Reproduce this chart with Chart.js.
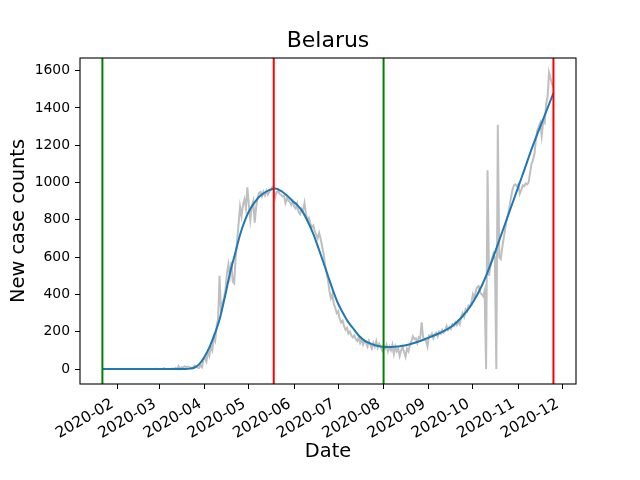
<!DOCTYPE html>
<html>
<head>
<meta charset="utf-8">
<script src="https://cdn.jsdelivr.net/npm/chart.js@4.4.1/dist/chart.umd.min.js"></script>
<style>
  html, body { margin: 0; padding: 0; background: #fff; }
</style>
</head>
<body>
<canvas id="chart" width="640" height="480"></canvas>
<script>
// day 0 = 2020-01-22, one value per day
const caseCounts = [
  0,0,0,0,0,0,0,0,0,0, 0,0,0,0,0,0,0,0,0,0, 0,0,0,0,0,0,0,0,0,0, 0,0,0,0,0,0,0,
  1,0,0,0,0,5,0,0,0,0,0,3,0,
  6,0,15,0,9,8,15,10,13,11,
  10,5,8,18,12,8,5,20,10,50,
  60,40,90,70,120,100,170,150,230,270,
  500,300,350,380,420,510,560,500,575,470,
  460,600,690,780,870,820,880,910,860,975,
  880,800,870,900,785,870,920,945,950,925,
  950,930,955,935,950,960,975,960,920,950,
  955,940,935,925,930,890,915,905,895,880,
  900,870,860,885,840,830,860,850,890,830,
  800,810,780,760,770,740,720,700,730,700,
  660,620,560,520,480,420,380,400,350,330,
  300,310,270,250,260,230,210,220,190,200,
  180,170,180,160,150,170,140,160,130,150,
  140,120,150,130,110,140,120,150,115,135,
  120,100,125,110,130,95,120,100,130,80,
  120,95,110,70,100,120,90,65,110,95,
  130,150,175,160,165,140,170,165,250,170,
  160,150,120,180,175,190,165,185,195,175,
  200,190,210,195,205,230,210,225,215,240,
  230,250,235,255,240,280,300,280,320,310,
  340,335,360,400,380,420,440,445,410,400,
  390,420,0,1066,500,560,590,620,600,0,
  1310,600,590,650,700,750,800,830,870,920,
  960,985,990,980,990,940,960,985,980,995,
  990,1000,1050,1100,1120,1150,1230,1280,1300,1320,
  1250,1330,1320,1420,1460,1590,1560,1530,1510
];

// smoothed curve
const fitDays = [0, 14, 28, 42, 56, 60, 63, 66, 70, 73, 77, 80, 84, 87, 91, 94, 98, 101, 105, 108,
  112, 115, 118, 122, 126, 130, 133, 137, 140, 144, 147, 151, 154, 158, 161, 165, 168, 172, 175, 179,
  182, 186, 189, 193, 196, 200, 203, 210, 217, 224, 231, 238, 245, 252, 259, 266, 273, 280, 287, 294, 301, 308];
const fitValues = [0, 0, 0, 0, 0, 2, 8, 25, 70, 115, 195, 265, 400, 510, 630, 720, 810, 860, 905, 930,
  952, 963, 968, 955, 930, 900, 880, 840, 795, 725, 660, 570, 500, 410, 350, 290, 250, 210, 180, 152,
  140, 128, 122, 118, 118, 120, 122, 133, 150, 172, 195, 225, 275, 345, 445, 580, 735, 889, 1043, 1199, 1340, 1480];

const monthTickDays = [10, 39, 70, 100, 131, 161, 192, 223, 253, 284, 314];
const monthTickLabels = ['2020-02', '2020-03', '2020-04', '2020-05', '2020-06', '2020-07',
  '2020-08', '2020-09', '2020-10', '2020-11', '2020-12'];
const yTickValues = [0, 200, 400, 600, 800, 1000, 1200, 1400, 1600];

const markerDays = [0, 117, 192, 308];
const markerColors = ['#008000', '#ff0000', '#008000', '#ff0000'];

const FONT = 'DejaVu Sans';

// vertical markers + full box frame like matplotlib
const overlay = {
  id: 'overlay',
  afterDatasetsDraw(chart) {
    const { ctx, chartArea: a, scales: { x } } = chart;
    ctx.save();
    ctx.lineWidth = 2;
    markerDays.forEach((d, i) => {
      const px = x.getPixelForValue(d);
      ctx.strokeStyle = markerColors[i];
      ctx.beginPath();
      ctx.moveTo(px, a.top);
      ctx.lineTo(px, a.bottom);
      ctx.stroke();
    });
    ctx.strokeStyle = '#000';
    ctx.lineWidth = 1.1;
    ctx.strokeRect(a.left, a.top, a.right - a.left, a.bottom - a.top);
    ctx.restore();
  }
};

new Chart(document.getElementById('chart'), {
  type: 'line',
  data: {
    datasets: [{
      label: 'fit',
      data: fitDays.map((d, i) => ({ x: d, y: fitValues[i] })),
      borderColor: '#1f77b4',
      borderWidth: 2,
      pointRadius: 0,
      cubicInterpolationMode: 'monotone',
      fill: false
    }, {
      label: 'new cases',
      data: caseCounts.map((v, i) => ({ x: i, y: v })),
      borderColor: '#bfbfbf',
      borderWidth: 2,
      pointRadius: 0,
      tension: 0,
      fill: false
    }]
  },
  options: {
    responsive: false,
    animation: false,
    // left 16 / right 0 keeps the title centred over the plot area
    layout: { padding: { left: 16, right: 0, top: 0, bottom: 0 } },
    plugins: {
      legend: { display: false },
      tooltip: { enabled: false },
      title: {
        display: true,
        text: 'Belarus',
        color: '#000',
        font: { family: FONT, size: 22, weight: 'normal' },
        padding: { top: 28, bottom: 3.6 }
      }
    },
    scales: {
      x: {
        type: 'linear',
        min: -15.3,
        max: 323.4,
        afterFit: s => { s.height = 96; },
        afterBuildTicks: s => { s.ticks = monthTickDays.map(v => ({ value: v })); },
        ticks: {
          autoSkip: false,
          minRotation: 30,
          maxRotation: 30,
          padding: 6,
          labelOffset: -4.5,
          color: '#000',
          font: { family: FONT, size: 15.3 },
          callback: v => monthTickLabels[monthTickDays.indexOf(v)]
        },
        grid: { drawOnChartArea: false, tickLength: 5, color: '#000', tickColor: '#000' },
        border: { display: false },
        title: {
          display: true,
          text: 'Date',
          color: '#000',
          font: { family: FONT, size: 19.4 },
          padding: { top: 0, bottom: 16 }
        }
      },
      y: {
        min: -80.4,
        max: 1668,
        afterFit: s => { s.width = 64; },
        afterBuildTicks: s => { s.ticks = yTickValues.map(v => ({ value: v })); },
        ticks: {
          padding: 5,
          color: '#000',
          font: { family: FONT, size: 13.9 },
          callback: v => String(v)
        },
        grid: { drawOnChartArea: false, tickLength: 5, color: '#000', tickColor: '#000' },
        border: { display: false },
        title: {
          display: true,
          text: 'New case counts',
          color: '#000',
          font: { family: FONT, size: 19.4 },
          padding: { top: -8.4, bottom: 0 }
        }
      },
      yRight: {
        position: 'right',
        display: true,
        min: -80.4,
        max: 1668,
        afterFit: s => { s.width = 64; },
        ticks: { display: false },
        grid: { display: false, drawTicks: false },
        border: { display: false }
      }
    }
  },
  plugins: [overlay]
});
</script>
</body>
</html>
